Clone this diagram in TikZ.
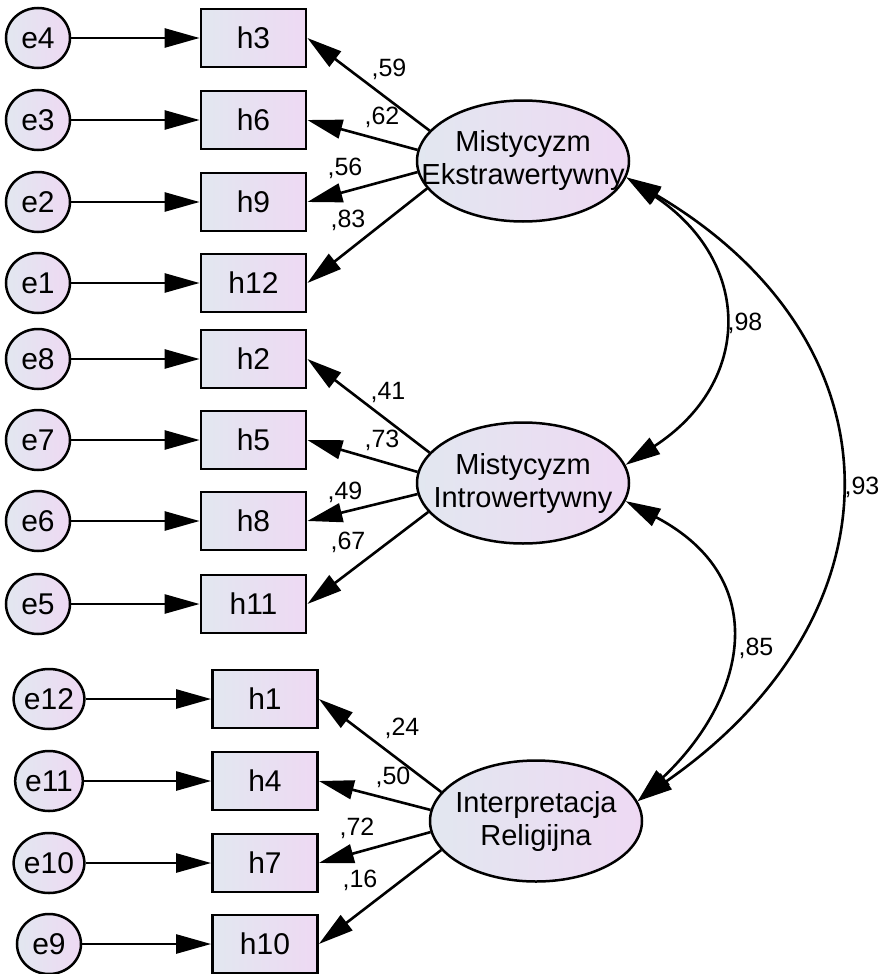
\documentclass[tikz,border=0pt]{standalone}
\usepackage{fontspec}
\setmainfont{Liberation Sans}
\usetikzlibrary{arrows.meta,shapes.geometric}
\definecolor{bL}{RGB}{226,231,240}
\definecolor{bR}{RGB}{238,217,243}
\begin{document}
\begin{tikzpicture}[x=1pt,y=-1pt,
  obs/.style={draw, line width=2.8pt, left color=bL, right color=bR, minimum width=105pt, minimum height=58pt, inner sep=0pt, font=\fontsize{30}{34}\selectfont},
  err/.style={ellipse, draw, line width=2.5pt, left color=bL, right color=bR, minimum width=64pt, minimum height=60pt, inner sep=0pt, font=\fontsize{30}{34}\selectfont},
  lat/.style={ellipse, draw, line width=2.5pt, left color=bL, right color=bR, minimum width=212pt, minimum height=121pt, inner sep=0pt},
  lattext/.style={inner sep=0pt, align=center, font=\fontsize{29}{33}\selectfont},
  arr/.style={line width=2.6pt, -{Triangle[length=35pt,width=19pt]}},
  cov/.style={line width=2.6pt, {Triangle[length=35pt,width=19pt]}-{Triangle[length=35pt,width=19pt]}},
  lab/.style={inner sep=0pt, font=\fontsize{25}{29}\selectfont}
]
\useasboundingbox (0,0) rectangle (883,974);

% group 1
\node[err] (e4) at (38,38) {e4};
\node[err] (e3) at (38,120) {e3};
\node[err] (e2) at (38,202) {e2};
\node[err] (e1) at (38,283) {e1};
\node[obs] (h3) at (253.5,38) {h3};
\node[obs] (h6) at (253.5,120) {h6};
\node[obs] (h9) at (253.5,202) {h9};
\node[obs] (h12) at (253.5,283) {h12};
% group 2
\node[err] (e8) at (38,359) {e8};
\node[err] (e7) at (38,440) {e7};
\node[err] (e6) at (38,521) {e6};
\node[err] (e5) at (38,604) {e5};
\node[obs] (h2) at (253.5,359) {h2};
\node[obs] (h5) at (253.5,440) {h5};
\node[obs] (h8) at (253.5,521) {h8};
\node[obs] (h11) at (253.5,604) {h11};
% group 3
\node[err] (e12) at (49,699) {e12};
\node[err] (e11) at (49,781) {e11};
\node[err] (e10) at (49,863) {e10};
\node[err] (e9) at (49,944) {e9};
\node[obs] (h1) at (265,699) {h1};
\node[obs] (h4) at (265,781) {h4};
\node[obs] (h7) at (265,863) {h7};
\node[obs] (h10) at (265,944) {h10};

% latent
\node[lat] (E1) at (523,161) {};
\node[lat] (E2) at (523,483) {};
\node[lat] (E3) at (536,821) {};

% error arrows
\foreach \e/\h in {e4/h3,e3/h6,e2/h9,e1/h12,e8/h2,e7/h5,e6/h8,e5/h11,e12/h1,e11/h4,e10/h7,e9/h10}
  \draw[arr] (\e.east) -- (\h.west);

% loadings
\draw[arr] (E1.162) -- (h3.east);
\draw[arr] (E1.174) -- (h6.east);
\draw[arr] (E1.186) -- (h9.east);
\draw[arr] (E1.196) -- (h12.east);
\draw[arr] (E2.162) -- (h2.east);
\draw[arr] (E2.174) -- (h5.east);
\draw[arr] (E2.186) -- (h8.east);
\draw[arr] (E2.197) -- (h11.east);
\draw[arr] (E3.163) -- (h1.east);
\draw[arr] (E3.174) -- (h4.east);
\draw[arr] (E3.186) -- (h7.east);
\draw[arr] (E3.197) -- (h10.east);

% covariances
\draw[cov] (E1.-9) .. controls (753,262) and (753,382) .. (E2.10);
\draw[cov] (E1.-9) .. controls (906,342) and (906,615) .. (E3.11);
\draw[cov] (E2.-10) .. controls (775,580) and (745,700) .. (E3.11);

% latent texts
\node[lattext] (E1t) at (523,161) {Mistycyzm\\Ekstrawertywny};
\node[lattext] (E2t) at (523,483) {Mistycyzm\\Introwertywny};
\node[lattext] (E3t) at (536,821) {Interpretacja\\Religijna};

% loading labels
\node[lab] (l59) at (389,69) {,59};
\node[lab] (l62) at (382,117) {,62};
\node[lab] (l56) at (345,168) {,56};
\node[lab] (l83) at (348,220) {,83};
\node[lab] (l41) at (388,392) {,41};
\node[lab] (l73) at (382,440) {,73};
\node[lab] (l49) at (345,492) {,49};
\node[lab] (l67) at (348,542) {,67};
\node[lab] (l24) at (402,728) {,24};
\node[lab] (l50) at (393,777) {,50};
\node[lab] (l72) at (357,828) {,72};
\node[lab] (l16) at (360,880) {,16};

\node[lab] (c98) at (745,323) {,98};
\node[lab] (c93) at (862,487) {,93};
\node[lab] (c85) at (756,648) {,85};
\end{tikzpicture}
\end{document}
